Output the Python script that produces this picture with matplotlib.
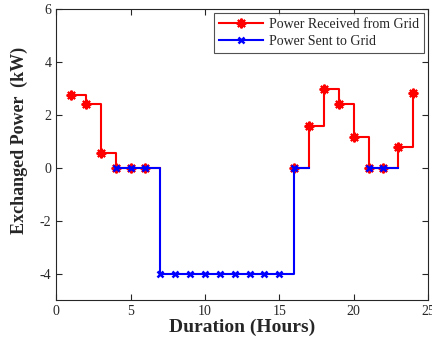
import matplotlib.pyplot as plt
import numpy as np

# Horas do dia e potência trocada com a rede (kW)
horas = np.arange(1, 25)
nan = np.nan
potencia_recebida = [2.76, 2.40, 0.55, 0, 0, 0,
                     nan, nan, nan, nan, nan, nan, nan, nan, nan,
                     0, 1.58, 2.97, 2.42, 1.18, 0, 0, 0.80, 2.82]
potencia_enviada = [nan, nan, nan, 0, 0, 0,
                    -4, -4, -4, -4, -4, -4, -4, -4, -4,
                    0, nan, nan, nan, nan, 0, 0, nan, nan]

cinza = '#262626'
plt.rcParams['font.family'] = ['Liberation Serif', 'DejaVu Serif']
plt.rcParams['text.color'] = cinza
plt.rcParams['axes.labelcolor'] = cinza
plt.rcParams['xtick.color'] = cinza
plt.rcParams['ytick.color'] = cinza
plt.rcParams['axes.unicode_minus'] = False

fig = plt.figure(figsize=(4.32, 3.43), dpi=100)
ax = fig.add_axes([0.13, 0.124, 0.861, 0.85])

# asterisco estilo MATLAB (8 raios)
ax.step(horas, potencia_recebida, where='post', color='red', lw=1.5,
        marker=(8, 2, 0), ms=7, mew=1.5, label='Power Received from Grid')
ax.step(horas, potencia_enviada, where='post', color='blue', lw=1.5,
        marker='x', ms=5, mew=1.8, label='Power Sent to Grid')

ax.set_xlim(0, 25)
ax.set_ylim(-5, 6)
ax.set_xticks([0, 5, 10, 15, 20, 25])
ax.set_yticks([-4, -2, 0, 2, 4, 6])
ax.tick_params(direction='in', top=True, right=True, labelsize=10, length=4)
for s in ax.spines.values():
    s.set_color(cinza)
    s.set_linewidth(0.8)

ax.set_xlabel('Duration (Hours)', fontsize=14, fontweight='bold', labelpad=0)
ax.set_ylabel('Exchanged Power  (kW)', fontsize=13, fontweight='bold')
ax.yaxis.set_label_coords(-0.075, 0.55)

leg = ax.legend(loc='upper right', fontsize=10, fancybox=False, edgecolor=cinza,
                borderaxespad=0.3, borderpad=0.35, handlelength=3.2,
                labelspacing=0.3, handletextpad=0.4)
leg.get_frame().set_linewidth(0.8)

fig.savefig('out.png', dpi=100)
